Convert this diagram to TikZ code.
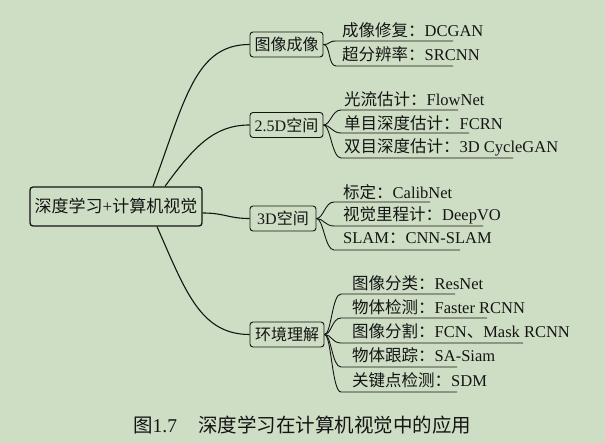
\documentclass[tikz,border=0pt]{standalone}
\usepackage{fontspec}
\setmainfont{Liberation Serif}
\newfontfamily\zh{Noto Sans CJK SC}
\usetikzlibrary{calc}
\definecolor{bg}{RGB}{206,222,196}
\definecolor{ink}{RGB}{20,20,20}
\begin{document}
\begin{tikzpicture}[x=1pt,y=-1pt,
  rootbox/.style={draw=ink, line width=1.3pt, rounded corners=3pt, minimum width=172pt, minimum height=39pt, inner sep=0pt, text=ink, font=\fontsize{17}{20}\selectfont},
  branchbox/.style={draw=ink, line width=0.9pt, rounded corners=3pt, minimum height=25pt, inner sep=0pt, text=ink, font=\fontsize{16}{19}\selectfont},
  leaf/.style={anchor=west, inner sep=0pt, text=ink, font=\fontsize{16.5}{19}\selectfont},
  link/.style={draw=ink, line width=1.1pt},
  twig/.style={draw=ink, line width=0.9pt}]
\fill[bg] (0,0) rectangle (605,443);
\useasboundingbox (0,0) rectangle (605,443);

% root and branches
\node[rootbox] (root) at (116,206.5) {{\zh 深度学习}+{\zh 计算机视觉}};
\node[branchbox, minimum width=73pt] (b1) at (286.5,44.5) {\zh 图像成像};
\node[branchbox, minimum width=73pt] (b2) at (286.5,125) {2.5D{\zh 空间}};
\node[branchbox, minimum width=66pt] (b3) at (283,218.5) {3D{\zh 空间}};
\node[branchbox, minimum width=74pt] (b4) at (287,334.5) {\zh 环境理解};

% root connectors
\coordinate (r1) at ($(root.north)+(37,0)$);
\coordinate (r2) at ($(root.north)+(49,0)$);
\coordinate (r3) at ($(root.east)+(0,6.5)$);
\coordinate (r4) at ($(root.south)+(41,0)$);
\draw[link] (r1) .. controls (185,100) and (195,44.5) .. (b1.west);
\draw[link] (r2) .. controls (195,145) and (215,125) .. (b2.west);
\draw[link] (r3) .. controls (225,213) and (228,218.5) .. (b3.west);
\draw[link] (r4) .. controls (185,290) and (200,334.5) .. (b4.west);

% branch 1
\foreach \cy/\uy/\ex/\txt [count=\i] in {
  30/41/453/{{\zh 成像修复：}DCGAN},
  54.5/66/453/{{\zh 超分辨率：}SRCNN}}{
  \node[leaf] (a\i) at (342,\cy) {\txt};
  \coordinate (as\i) at (336,\uy);
  \coordinate (ae\i) at (\ex,\uy);
  \draw[twig] (b1.east) .. controls +(7,0) and +(-8,0) .. (as\i) -- (ae\i);
}
% branch 2
\foreach \cy/\uy/\ex/\txt [count=\i] in {
  99.5/110/458/{{\zh 光流估计：}FlowNet},
  123/133/469/{{\zh 单目深度估计：}FCRN},
  147/158/513/{{\zh 双目深度估计：}3D CycleGAN}}{
  \node[leaf] (c\i) at (344,\cy) {\txt};
  \coordinate (cs\i) at (341,\uy);
  \coordinate (ce\i) at (\ex,\uy);
  \draw[twig] (b2.east) .. controls +(7,0) and +(-9,0) .. (cs\i) -- (ce\i);
}
% branch 3
\foreach \cy/\uy/\ex/\txt [count=\i] in {
  192/202/430/{{\zh 标定：}CalibNet},
  215/226/483/{{\zh 视觉里程计：}DeepVO},
  238/250/460/{SLAM{\zh ：}CNN-SLAM}}{
  \node[leaf] (d\i) at (343,\cy) {\txt};
  \coordinate (ds\i) at (334,\uy);
  \coordinate (de\i) at (\ex,\uy);
  \draw[twig] (b3.east) .. controls +(7,0) and +(-9,0) .. (ds\i) -- (de\i);
}
% branch 4
\foreach \cy/\uy/\ex/\txt [count=\i] in {
  283/294/455/{{\zh 图像分类：}ResNet},
  307/318/487/{{\zh 物体检测：}Faster RCNN},
  331/343/523/{{\zh 图像分割：}FCN{\zh 、}Mask RCNN},
  355/367/457/{{\zh 物体跟踪：}SA-Siam},
  380/392/457/{{\zh 关键点检测：}SDM}}{
  \node[leaf] (e\i) at (352,\cy) {\txt};
  \coordinate (es\i) at (341,\uy);
  \coordinate (ee\i) at (\ex,\uy);
  \draw[twig] (b4.east) .. controls +(7,0) and +(-9,0) .. (es\i) -- (ee\i);
}

% caption
\node[anchor=west, inner sep=0pt, text=ink, font=\fontsize{19.5}{22}\selectfont] (cap) at (133,425)
  {{\zh 图}1.7\hspace{21pt}{\zh 深度学习在计算机视觉中的应用}};
\end{tikzpicture}
\end{document}
